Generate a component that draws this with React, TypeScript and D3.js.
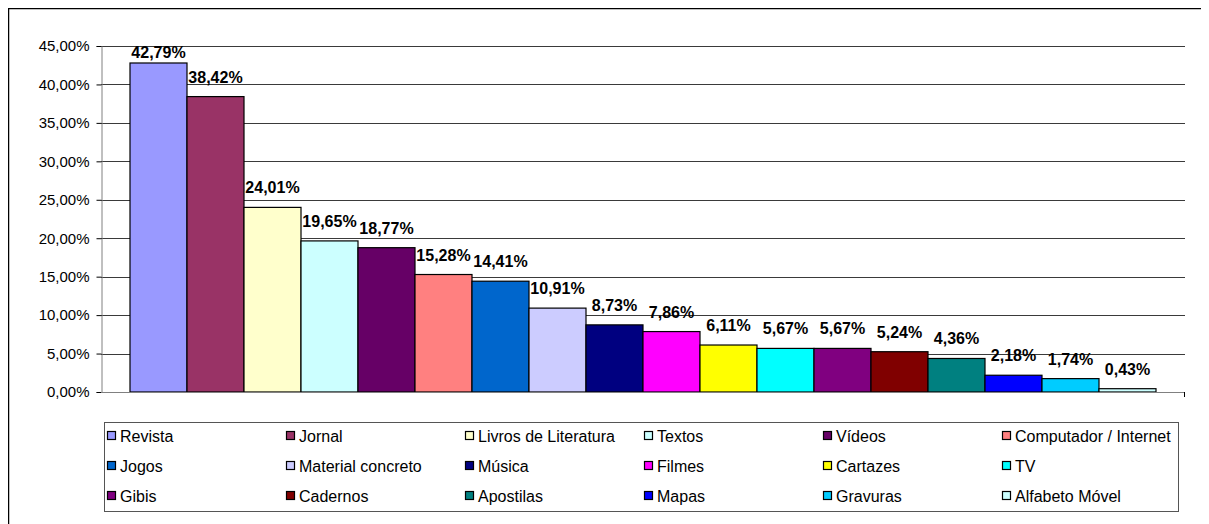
import * as d3 from 'd3';
import { useEffect, useRef } from 'react';

const categories = [
  'Revista', 'Jornal', 'Livros de Literatura', 'Textos', 'Vídeos', 'Computador / Internet',
  'Jogos', 'Material concreto', 'Música', 'Filmes', 'Cartazes', 'TV',
  'Gibis', 'Cadernos', 'Apostilas', 'Mapas', 'Gravuras', 'Alfabeto Móvel',
];
const values = [42.79, 38.42, 24.01, 19.65, 18.77, 15.28, 14.41, 10.91, 8.73, 7.86, 6.11, 5.67, 5.67, 5.24, 4.36, 2.18, 1.74, 0.43];
const colors = [
  '#9999FF', '#993366', '#FFFFCC', '#CCFFFF', '#660066', '#FF8080',
  '#0066CC', '#CCCCFF', '#000080', '#FF00FF', '#FFFF00', '#00FFFF',
  '#800080', '#800000', '#008080', '#0000FF', '#00CCFF', '#CCFFFF',
];
const yTicks = [0, 5, 10, 15, 20, 25, 30, 35, 40, 45];

const fmt = (v: number) => v.toFixed(2).replace('.', ',') + '%';

const BarChart = ({ width = 1209, height = 516 }) => {
  const ref = useRef<SVGSVGElement>(null);

  useEffect(() => {
    const svg = d3.select(ref.current);
    svg.selectAll('*').remove();
    svg.attr('width', width).attr('height', height)
      .style('font-family', 'Liberation Sans, Arial, sans-serif');

    // outer frame (bottom edge runs off the page)
    svg.append('rect')
      .attr('x', 0).attr('y', 0)
      .attr('width', 1199).attr('height', height + 10)
      .attr('fill', '#fff').attr('stroke', '#000').attr('stroke-width', 2.5);

    const left = 93, right = 1177, top = 38, bottom = 384;

    const y = d3.scaleLinear().domain([0, 45]).range([bottom, top]);
    const x = d3.scaleBand().domain(categories).range([122, 1148]).padding(0);

    const g = svg.append('g');

    // gridlines
    g.selectAll('line.grid')
      .data(yTicks.slice(1))
      .enter()
      .append('line')
      .attr('class', 'grid')
      .attr('x1', left).attr('x2', right)
      .attr('y1', d => Math.round(y(d)) + 0.5).attr('y2', d => Math.round(y(d)) + 0.5)
      .attr('stroke', '#3a3a3a').attr('stroke-width', 1);

    // bars
    g.selectAll('rect.bar')
      .data(values)
      .enter()
      .append('rect')
      .attr('class', 'bar')
      .attr('x', (d, i) => x(categories[i]))
      .attr('y', d => y(d))
      .attr('width', x.bandwidth())
      .attr('height', d => bottom - y(d))
      .attr('fill', (d, i) => colors[i])
      .attr('stroke', '#000').attr('stroke-width', 1.2);

    // y axis
    const yAxis = g.append('g')
      .attr('transform', `translate(${left + 0.5},0)`)
      .call(d3.axisLeft(y).tickValues(yTicks).tickSize(5).tickFormat(d => fmt(+d)));
    yAxis.select('.domain').attr('stroke', '#808080');
    yAxis.selectAll('.tick line').attr('stroke', '#000');
    yAxis.selectAll('.tick text')
      .attr('x', -12)
      .style('font-size', '15px').style('font-family', 'Liberation Sans, Arial, sans-serif')
      .attr('fill', '#000');

    // x axis baseline
    g.append('line')
      .attr('x1', left).attr('x2', right)
      .attr('y1', bottom + 0.5).attr('y2', bottom + 0.5)
      .attr('stroke', '#808080');
    g.append('line')
      .attr('x1', right - 0.5).attr('x2', right - 0.5)
      .attr('y1', bottom).attr('y2', bottom + 5)
      .attr('stroke', '#000');

    // value labels
    g.selectAll('text.val')
      .data(values)
      .enter()
      .append('text')
      .attr('class', 'val')
      .attr('x', (d, i) => x(categories[i]) + x.bandwidth() / 2)
      .attr('y', d => Math.max(y(d) - 14, 50))
      .attr('text-anchor', 'middle')
      .style('font-size', '16px').style('font-weight', 'bold')
      .text(d => fmt(d));

    // legend
    const legend = svg.append('g');
    legend.append('rect')
      .attr('x', 96.5).attr('y', 414.5)
      .attr('width', 1074).attr('height', 89)
      .attr('fill', '#fff').attr('stroke', '#555');

    const item = legend.selectAll('g.item')
      .data(categories)
      .enter()
      .append('g')
      .attr('class', 'item')
      .attr('transform', (d, i) => `translate(${99 + (i % 6) * 179},${428 + Math.floor(i / 6) * 30})`);

    item.append('rect')
      .attr('x', 0.5).attr('y', -4.5)
      .attr('width', 8).attr('height', 8)
      .attr('fill', (d, i) => colors[i])
      .attr('stroke', '#000').attr('stroke-width', 1.2);

    item.append('text')
      .attr('x', 13).attr('y', 6)
      .style('font-size', '16px')
      .text(d => d);

    return () => {
      svg.selectAll('*').remove();
    };
  }, [width, height]);

  return <svg ref={ref} style={{ display: 'block' }} />;
};

export default function App() {
  return <BarChart />;
}
